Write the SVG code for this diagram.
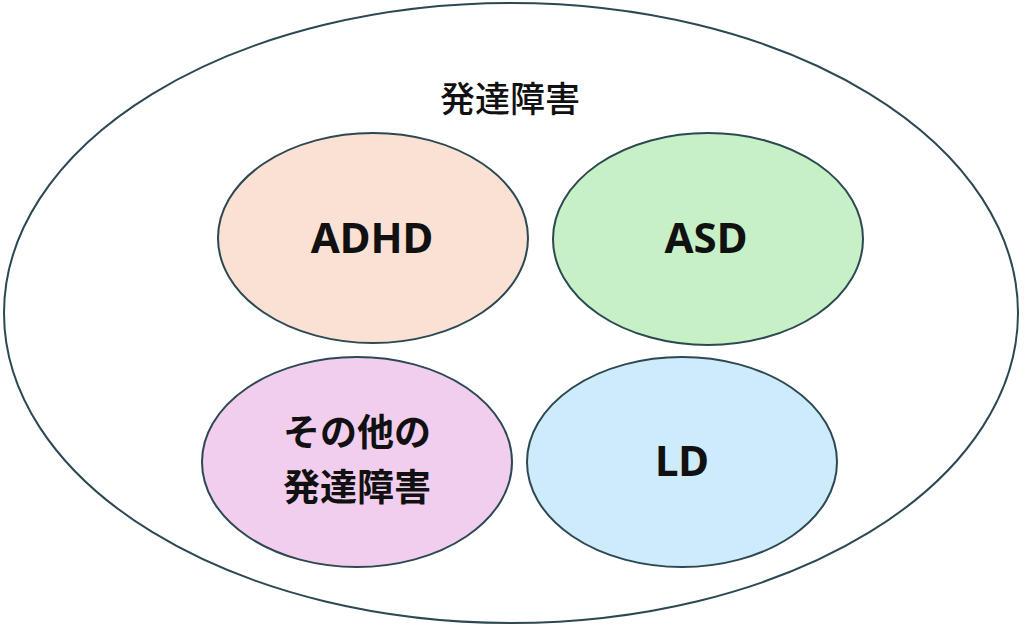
<svg xmlns="http://www.w3.org/2000/svg" width="1024" height="629" viewBox="0 0 1024 629">
<style>
.e{stroke:#2c4852;stroke-width:2}
.t{font-family:"Noto Sans","Noto Sans CJK JP",sans-serif;font-weight:700;fill:#111;text-anchor:middle}
.j{font-family:"Noto Sans CJK JP",sans-serif;fill:#111;text-anchor:middle}
</style>
<rect width="1024" height="629" fill="#fff"/>
<g id="outer">
<ellipse class="e" cx="511" cy="313" rx="507" ry="310" fill="#fff"/>
<text class="j" x="510" y="112" font-size="35" font-weight="500">発達障害</text>
</g>
<g id="adhd">
<ellipse class="e" cx="373" cy="238" rx="155" ry="105" fill="#fbe1d3"/>
<text class="t" x="372" y="253" font-size="42">ADHD</text>
</g>
<g id="asd">
<ellipse class="e" cx="708" cy="239" rx="155" ry="106" fill="#c7f0c6"/>
<text class="t" x="706" y="253" font-size="42">ASD</text>
</g>
<g id="other">
<ellipse class="e" cx="357" cy="462" rx="155" ry="105" fill="#f1cdee"/>
<text class="j" font-size="37" font-weight="700"><tspan x="357" y="446">その他の</tspan><tspan x="357" y="501">発達障害</tspan></text>
</g>
<g id="ld">
<ellipse class="e" cx="682" cy="462" rx="155" ry="105" fill="#cdebfa"/>
<text class="t" x="682" y="476" font-size="42">LD</text>
</g>
<g id="connectors"></g>
</svg>
